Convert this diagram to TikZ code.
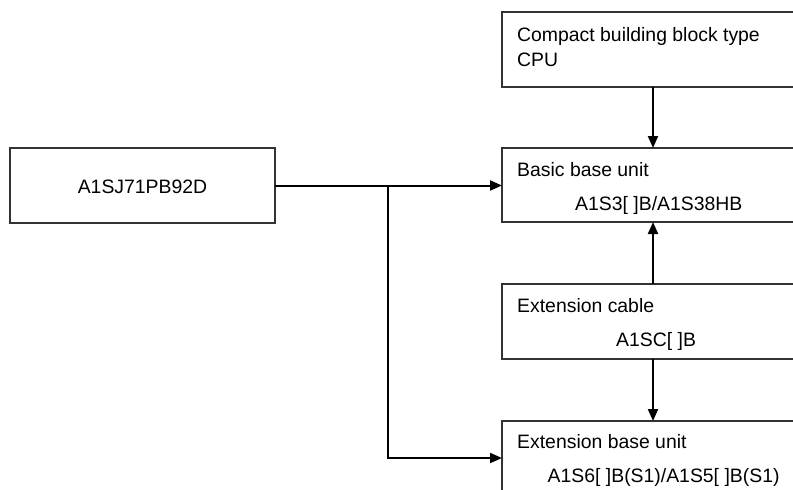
\documentclass[tikz,border=0pt]{standalone}
\usepackage{fontspec}
\setmainfont{Liberation Sans}
\usetikzlibrary{arrows.meta}
\begin{document}
\begin{tikzpicture}[x=1pt,y=-1pt,
  box/.style={draw=black!80,line width=1.1pt,inner sep=0pt,outer sep=0pt},
  txt/.style={inner sep=0pt,anchor=base west,font=\fontsize{19.4}{24}\selectfont},
  conn/.style={line width=2pt,-{Triangle[length=12pt,width=10pt]}}]
\useasboundingbox (0,0) rectangle (793,490);
\clip (0,0) rectangle (793,490);
% boxes
\node[box,minimum width=302pt,minimum height=75pt] (cpu) at (653,49.5) {};
\node[box,minimum width=265pt,minimum height=75pt] (pb) at (142.5,185.5) {};
\node[box,minimum width=302pt,minimum height=74pt] (basic) at (653,185) {};
\node[box,minimum width=302pt,minimum height=75pt] (cable) at (653,321.5) {};
\node[box,minimum width=302pt,minimum height=74pt] (ext) at (653,458) {};
% texts
\node[txt] (t1) at (517,41) {Compact building block type};
\node[txt] (t2) at (517,66) {CPU};
\node[txt,anchor=base] (t3) at (142.5,193) {A1SJ71PB92D};
\node[txt] (t4) at (517,176.5) {Basic base unit};
\node[txt] (t5) at (575,210.5) {A1S3[ ]B/A1S38HB};
\node[txt] (t6) at (517,312.5) {Extension cable};
\node[txt] (t7) at (616,346) {A1SC[ ]B};
\node[txt] (t8) at (517,448) {Extension base unit};
\node[txt] (t9) at (547.5,482.5) {A1S6[ ]B(S1)/A1S5[ ]B(S1)};
% connectors
\coordinate (br) at (388,185.5);
\draw[conn] (cpu.south) -- (basic.north);
\draw[conn] (cable.north) -- (basic.south);
\draw[conn] (cable.south) -- (ext.north);
\draw[conn] (pb.east) -- (pb.east -| basic.west);
\draw[conn] (br) |- (ext.west);
\end{tikzpicture}
\end{document}
